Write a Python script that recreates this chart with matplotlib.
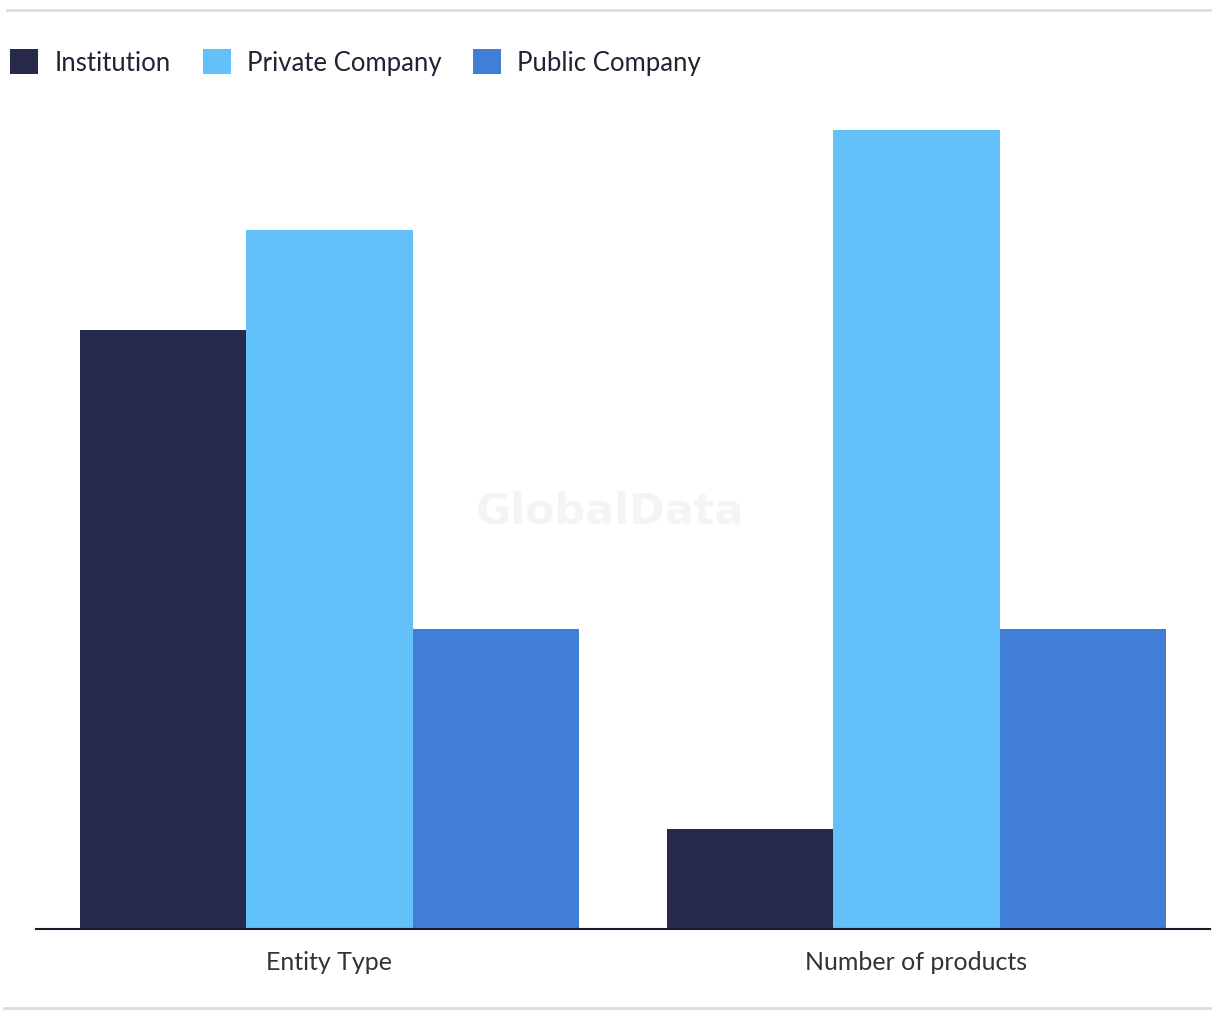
import matplotlib
matplotlib.use("Agg")
import matplotlib.pyplot as plt
from matplotlib.patches import Patch
from matplotlib.lines import Line2D
import numpy as np

categories = ["Entity Type", "Number of products"]
series_names = ["Institution", "Private Company", "Public Company"]
institution = [6, 1]
private_company = [7, 8]
public_company = [3, 3]
colors = ["#27294b", "#62c1f8", "#417ed6"]

plt.rcParams['font.family'] = ['Lato', 'DejaVu Sans']

W, H = 1220, 1020
fig = plt.figure(figsize=(W / 100, H / 100), dpi=100)
ax = fig.add_axes([36 / W, (H - 930) / H, (1210 - 36) / W, (930 - 131) / H])

x = np.arange(len(categories))
bw = 0.85 / 3
for i, (vals, c) in enumerate(zip([institution, private_company, public_company], colors)):
    ax.bar(x + (i - 1) * bw, vals, width=bw, color=c, label=series_names[i], linewidth=0)

ax.set_xlim(-0.5, 1.5)
ax.set_ylim(0, 8)
ax.set_yticks([])
ax.set_xticks(x)
ax.set_xticklabels(categories, fontsize=18, color="#333333")
ax.tick_params(axis='x', length=0, pad=15)
for s in ["top", "right", "left"]:
    ax.spines[s].set_visible(False)
ax.spines["bottom"].set_color("#1a1a2e")
ax.spines["bottom"].set_linewidth(1.5)

# watermark
fig.text(610 / W, 1 - 512 / H, "GlobalData", fontsize=31, fontweight="bold",
         color="#f4f4f4", ha="center", va="center", family="DejaVu Sans", zorder=0)

# top and bottom rules
fig.add_artist(Line2D([7 / W, 1210 / W], [1 - 11 / H, 1 - 11 / H], color="#dddddd", lw=2))
fig.add_artist(Line2D([4 / W, 1210 / W], [1 - 1009 / H, 1 - 1009 / H], color="#dddddd", lw=2))

handles = [Patch(facecolor=c, edgecolor="none") for c in colors]
fig.legend(handles, series_names, loc="upper left", bbox_to_anchor=(0 / W, 1 - 40 / H),
           ncol=3, frameon=False, fontsize=18.5, handlelength=1.09, handleheight=1.09,
           handletextpad=0.62, columnspacing=1.25, borderaxespad=0, labelcolor="#222233")

fig.savefig("out.png", dpi=100)
